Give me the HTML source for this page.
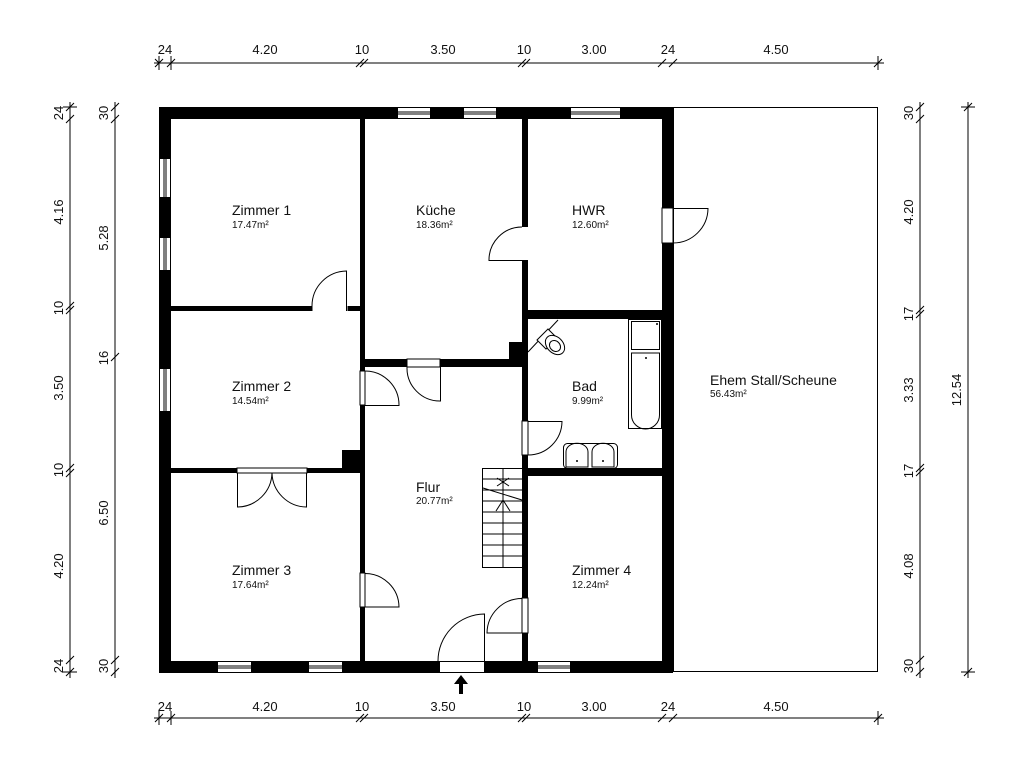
<!DOCTYPE html>
<html><head><meta charset="utf-8"><style>
html,body{margin:0;padding:0;background:#fff}
svg{display:block}
text{font-family:"Liberation Sans",sans-serif;fill:#111}
.rn{font-size:14px}
.ar{font-size:10px}
.dm{font-size:13px}
</style></head><body>
<svg width="1027" height="759" viewBox="0 0 1027 759" xmlns="http://www.w3.org/2000/svg">
<g stroke="#000" stroke-width="1" fill="none">
<line x1="154" y1="63" x2="884" y2="63"/>
<line x1="154" y1="718" x2="884" y2="718"/>
<line x1="70" y1="102" x2="70" y2="678"/>
<line x1="115" y1="102" x2="115" y2="678"/>
<line x1="920" y1="102" x2="920" y2="678"/>
<line x1="968" y1="102" x2="968" y2="678"/>
</g>
<g stroke="#000" stroke-width="1">
<path d="M155,67 L163,59 M167,67 L175,59 M356,67 L364,59 M360,67 L368,59 M518,67 L526,59 M522,67 L530,59 M658,67 L666,59 M669,67 L677,59 M874,67 L882,59 M155,59 L159,63 M159,70 L159,56 M171,70 L171,56 M878,70 L878,56"/>
<path d="M155,722 L163,714 M167,722 L175,714 M356,722 L364,714 M360,722 L368,714 M518,722 L526,714 M522,722 L530,714 M658,722 L666,714 M669,722 L677,714 M874,722 L882,714 M159,725 L159,711 M171,725 L171,711 M878,725 L878,711"/>
<path d="M66,111 L74,103 M66,123 L74,115 M66,310 L74,302 M66,314 L74,306 M66,472 L74,464 M66,477 L74,469 M66,664 L74,656 M66,676 L74,668 M63,107 L77,107 M63,672 L77,672"/>
<path d="M111,111 L119,103 M111,123 L119,115 M111,361 L119,353 M111,664 L119,656 M111,676 L119,668"/>
<path d="M916,111 L924,103 M916,123 L924,115 M916,314 L924,306 M916,318 L924,310 M916,472 L924,464 M916,476 L924,468 M916,664 L924,656 M916,676 L924,668"/>
<path d="M964,111 L972,103 M964,676 L972,668 M961,107 L975,107 M961,672 L975,672"/>
</g>
<g class="dm" text-anchor="middle">
<text x="165" y="54">24</text><text x="265" y="54">4.20</text><text x="362" y="54">10</text><text x="443" y="54">3.50</text><text x="524" y="54">10</text><text x="594" y="54">3.00</text><text x="668" y="54">24</text><text x="776" y="54">4.50</text>
<text x="165" y="711">24</text><text x="265" y="711">4.20</text><text x="362" y="711">10</text><text x="443" y="711">3.50</text><text x="524" y="711">10</text><text x="594" y="711">3.00</text><text x="668" y="711">24</text><text x="776" y="711">4.50</text>
</g>
<g class="dm" text-anchor="middle">
<text transform="translate(63,113) rotate(-90)">24</text>
<text transform="translate(63,212) rotate(-90)">4.16</text>
<text transform="translate(63,308) rotate(-90)">10</text>
<text transform="translate(63,388) rotate(-90)">3.50</text>
<text transform="translate(63,470) rotate(-90)">10</text>
<text transform="translate(63,566) rotate(-90)">4.20</text>
<text transform="translate(63,666) rotate(-90)">24</text>
<text transform="translate(108,113) rotate(-90)">30</text>
<text transform="translate(108,238) rotate(-90)">5.28</text>
<text transform="translate(108,358) rotate(-90)">16</text>
<text transform="translate(108,513) rotate(-90)">6.50</text>
<text transform="translate(108,666) rotate(-90)">30</text>
<text transform="translate(913,113) rotate(-90)">30</text>
<text transform="translate(913,212) rotate(-90)">4.20</text>
<text transform="translate(913,314) rotate(-90)">17</text>
<text transform="translate(913,390) rotate(-90)">3.33</text>
<text transform="translate(913,471) rotate(-90)">17</text>
<text transform="translate(913,566) rotate(-90)">4.08</text>
<text transform="translate(913,666) rotate(-90)">30</text>
<text transform="translate(961,390) rotate(-90)">12.54</text>
</g>
<rect x="673.5" y="107.5" width="204" height="564" fill="none" stroke="#000"/>
<g fill="#000">
<rect x="159" y="107" width="514" height="12"/>
<rect x="159" y="661" width="514" height="12"/>
<rect x="159" y="107" width="12" height="566"/>
<rect x="662" y="107" width="11" height="566"/>
<rect x="360" y="119" width="5" height="542"/>
<rect x="522" y="119" width="6" height="542"/>
<rect x="171" y="306" width="189" height="5"/>
<rect x="171" y="468" width="189" height="5"/>
<rect x="365" y="359" width="157" height="8"/>
<rect x="528" y="310" width="134" height="9"/>
<rect x="528" y="468" width="134" height="8"/>
<rect x="342" y="450" width="18" height="18"/>
<rect x="509" y="342" width="13" height="17"/>
</g>
<g fill="#fff" stroke="#000" stroke-width="1">
<rect x="397.5" y="107.5" width="33" height="11"/><line x1="398" y1="112" x2="430" y2="112"/><line x1="398" y1="114" x2="430" y2="114"/>
<rect x="463.5" y="107.5" width="33" height="11"/><line x1="464" y1="112" x2="496" y2="112"/><line x1="464" y1="114" x2="496" y2="114"/>
<rect x="570.5" y="107.5" width="50" height="11"/><line x1="571" y1="112" x2="620" y2="112"/><line x1="571" y1="114" x2="620" y2="114"/>
<rect x="159.5" y="158.5" width="11" height="39"/><line x1="164" y1="159" x2="164" y2="197"/><line x1="166" y1="159" x2="166" y2="197"/>
<rect x="159.5" y="237.5" width="11" height="33"/><line x1="164" y1="238" x2="164" y2="270"/><line x1="166" y1="238" x2="166" y2="270"/>
<rect x="159.5" y="368.5" width="11" height="43"/><line x1="164" y1="369" x2="164" y2="411"/><line x1="166" y1="369" x2="166" y2="411"/>
<rect x="217.5" y="661.5" width="34" height="11"/><line x1="218" y1="666" x2="251" y2="666"/><line x1="218" y1="668" x2="251" y2="668"/>
<rect x="308.5" y="661.5" width="34" height="11"/><line x1="309" y1="666" x2="342" y2="666"/><line x1="309" y1="668" x2="342" y2="668"/>
<rect x="537.5" y="661.5" width="33" height="11"/><line x1="538" y1="666" x2="570" y2="666"/><line x1="538" y1="668" x2="570" y2="668"/>
<rect x="312.5" y="306" width="35" height="5" stroke="none"/>
<rect x="522" y="227" width="6" height="33" stroke="none"/>
<rect x="662" y="208" width="11" height="35"/>
<rect x="407" y="359" width="33" height="8"/>
<rect x="360" y="371" width="5" height="34"/>
<rect x="360" y="573" width="5" height="34"/>
<rect x="522" y="421" width="6" height="34"/>
<rect x="522" y="598" width="6" height="35"/>
<rect x="439.5" y="661.5" width="45" height="11"/>
<rect x="237" y="468" width="70" height="5"/>
</g>
<g fill="none" stroke="#000" stroke-width="1">
<path d="M346.5,311 L346.5,271 A35,35 0 0 0 312,306"/>
<path d="M522,260.5 L489,260.5 A33,33 0 0 1 522,227"/>
<path d="M673,208.5 L708,208.5 A35,35 0 0 1 673,243"/>
<path d="M440.5,367 L440.5,401 A33,33 0 0 1 407,367"/>
<path d="M365,405.5 L399,405.5 A34,34 0 0 0 365,371"/>
<path d="M365,573.5 A34,34 0 0 1 399,607 L365,607"/>
<path d="M528,421.5 L562,421.5 A34,34 0 0 1 528,455"/>
<path d="M522,598.5 A35,35 0 0 0 487,633 L522,633"/>
<path d="M484.5,661 L484.5,614 A47,47 0 0 0 438,661"/>
<path d="M237.5,473 L237.5,507 A35,35 0 0 0 272,473"/>
<path d="M306.5,473 L306.5,507 A35,35 0 0 1 272,473"/>
<rect x="482.5" y="468.5" width="40" height="99"/>
<line x1="503" y1="468" x2="503" y2="568"/>
<path d="M482,479 H522 M482,490 H522 M482,501 H522 M482,512 H522 M482,523 H522 M482,534 H522 M482,545 H522 M482,556 H522"/>
<path d="M483,488 L522,500 M503,470 L503,492 M497,478 L509,486 M509,478 L497,486 M503,500 L496,511 M503,500 L510,511"/>
<rect x="628.5" y="319.5" width="33" height="109"/>
<rect x="631.5" y="321.5" width="28" height="28"/>
<path d="M631.5,353 H659.5 V415 A14,14 0 0 1 631.5,415 Z"/>
<rect x="563.5" y="443.5" width="54" height="25" rx="4"/>
<path d="M566,467 V452 A10,8 0 0 1 588,452 V467 Z"/>
<path d="M592,467 V452 A10,8 0 0 1 614,452 V467 Z"/>
<path d="M528,352 L558,320"/>
<path d="M537,340 L548,329 L557,338 L546,349 Z" fill="#fff"/>
<ellipse cx="555" cy="345" rx="11" ry="8" transform="rotate(45 555 345)" fill="#fff"/>
<ellipse cx="555" cy="346" rx="6" ry="5" transform="rotate(45 555 346)"/>
</g>
<g fill="#000">
<circle cx="657" cy="324" r="1"/><circle cx="646" cy="358" r="1"/>
<circle cx="577" cy="461" r="1"/><circle cx="603" cy="461" r="1"/>
<rect x="459" y="682" width="4" height="12"/>
<path d="M454,684 L461,675 L468,684 Z"/>
</g>
<text class="rn" x="232" y="215">Zimmer 1</text><text class="ar" x="232" y="228">17.47m²</text>
<text class="rn" x="416" y="215">Küche</text><text class="ar" x="416" y="228">18.36m²</text>
<text class="rn" x="572" y="215">HWR</text><text class="ar" x="572" y="228">12.60m²</text>
<text class="rn" x="232" y="391">Zimmer 2</text><text class="ar" x="232" y="404">14.54m²</text>
<text class="rn" x="572" y="391">Bad</text><text class="ar" x="572" y="404">9.99m²</text>
<text class="rn" x="710" y="385">Ehem Stall/Scheune</text><text class="ar" x="710" y="397">56.43m²</text>
<text class="rn" x="416" y="492">Flur</text><text class="ar" x="416" y="504">20.77m²</text>
<text class="rn" x="232" y="575">Zimmer 3</text><text class="ar" x="232" y="588">17.64m²</text>
<text class="rn" x="572" y="575">Zimmer 4</text><text class="ar" x="572" y="588">12.24m²</text>
</svg>
</body></html>
